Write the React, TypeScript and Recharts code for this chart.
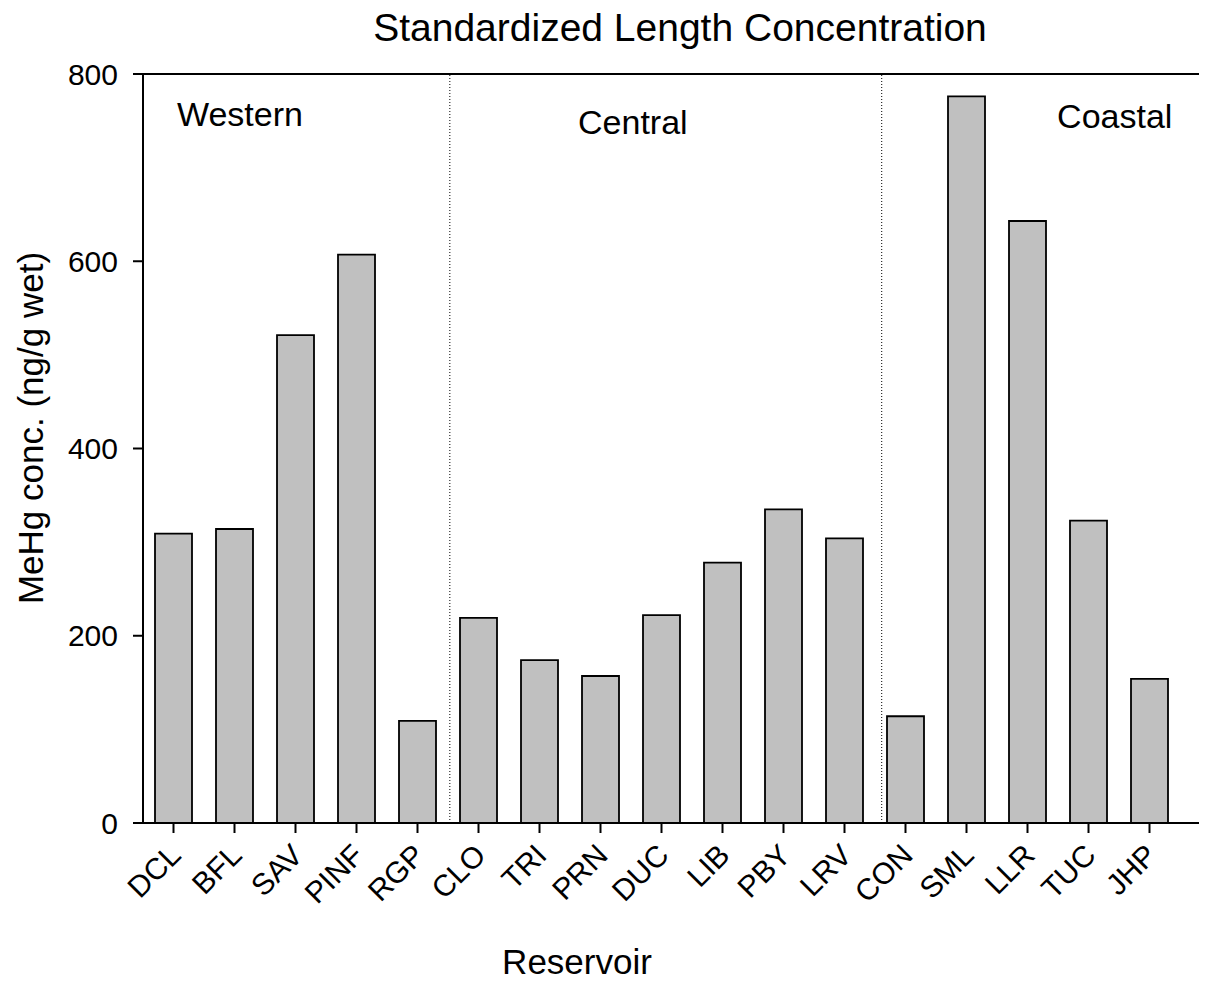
import React from 'react';
import { BarChart, Bar, XAxis, YAxis, ReferenceLine, ReferenceDot } from 'recharts';

const categories = ['DCL', 'BFL', 'SAV', 'PINF', 'RGP', 'CLO', 'TRI', 'PRN', 'DUC', 'LIB', 'PBY', 'LRV', 'CON', 'SML', 'LLR', 'TUC', 'JHP'];
const values = [309, 314, 521, 607, 109, 219, 174, 157, 222, 278, 335, 304, 114, 776, 643, 323, 154];
const yTicks = [0, 200, 400, 600, 800];
const regionNames = ['Western', 'Central', 'Coastal'];
const regionLabelX = [1.09, 7.53, 15.43];
const regionLabelY = [757, 749, 755];
const dividerX = [4.53, 11.61];

const data = categories.map((c, i) => ({ name: c, idx: i, value: values[i] }));

const FONT = '"Liberation Sans", Arial, Helvetica, sans-serif';

const XTick = (props: any) => {
  const { x, y, payload } = props;
  const tx = x + 9;
  const ty = y + 22;
  return (
    <text
      x={tx}
      y={ty}
      textAnchor="end"
      fontSize={30}
      fontFamily={FONT}
      fill="#000"
      transform={`rotate(-45, ${tx}, ${ty})`}
    >
      {payload.value}
    </text>
  );
};

export default function App() {
  return (
    <div style={{ position: 'relative', width: 1199, height: 973, fontFamily: FONT }}>
      <div
        style={{
          position: 'absolute',
          left: 272,
          top: 0,
          width: 800,
          textAlign: 'center',
          fontSize: 39,
          lineHeight: '40px',
          color: '#000',
        }}
      >
        Standardized Length Concentration
      </div>
      <div
        style={{
          position: 'absolute',
          left: 369,
          top: 934,
          width: 400,
          textAlign: 'center',
          fontSize: 35,
          lineHeight: '40px',
          color: '#000',
        }}
      >
        Reservoir
      </div>
      <BarChart
        width={1199}
        height={973}
        data={data}
        margin={{ top: 66, right: 0, bottom: 58, left: 0 }}
        barSize={37}
      >
        <XAxis
          dataKey="name"
          type="category"
          padding={{ left: 0, right: 27 }}
          height={100}
          interval={0}
          tickSize={10}
          axisLine={{ stroke: '#000', strokeWidth: 2 }}
          tickLine={{ stroke: '#000', strokeWidth: 2 }}
          tick={<XTick />}
        />
        <XAxis
          xAxisId="pos"
          dataKey="idx"
          type="number"
          domain={[-0.5, 16.5]}
          allowDataOverflow
          padding={{ left: 0, right: 27 }}
          hide
        />
        <YAxis
          type="number"
          domain={[0, 800]}
          ticks={yTicks}
          width={135}
          tickSize={10}
          tickMargin={15}
          axisLine={{ stroke: '#000', strokeWidth: 2 }}
          tickLine={{ stroke: '#000', strokeWidth: 2 }}
          tick={{ fill: '#000', fontSize: 30, fontFamily: FONT }}
          label={{
            value: 'MeHg conc.  (ng/g wet)',
            angle: -90,
            position: 'insideLeft',
            offset: 0,
            content: () => (
              <text
                x={22}
                y={420}
                textAnchor="middle"
                dominantBaseline="central"
                fontSize={35}
                fontFamily={FONT}
                fill="#000"
                transform="rotate(-90, 22, 420)"
              >
                MeHg conc.  (ng/g wet)
              </text>
            ),
          }}
        />
        <ReferenceLine y={800} stroke="#000" strokeWidth={2} />
        {dividerX.map((d, i) => (
          <ReferenceLine
            key={`d${i}`}
            xAxisId="pos"
            x={d}
            stroke="#000"
            strokeWidth={1}
            strokeDasharray="1 2"
          />
        ))}
        <Bar
          dataKey="value"
          fill="#c0c0c0"
          stroke="#000"
          strokeWidth={1.8}
          isAnimationActive={false}
        />
        {regionNames.map((n, i) => (
          <ReferenceDot
            key={n}
            xAxisId="pos"
            x={regionLabelX[i]}
            y={regionLabelY[i]}
            r={0}
            stroke="none"
            fill="none"
            label={{ value: n, position: 'center', fontSize: 34, fontFamily: FONT, fill: '#000' }}
          />
        ))}
      </BarChart>
    </div>
  );
}
